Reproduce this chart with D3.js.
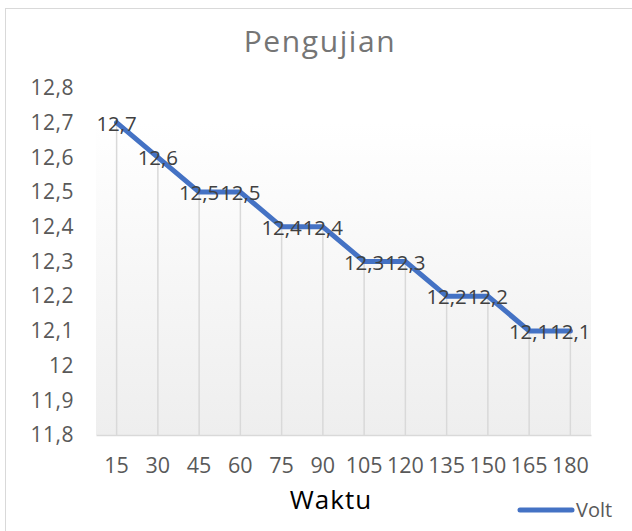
<!DOCTYPE html>
<html>
<head>
<meta charset="utf-8">
<script src="https://cdn.jsdelivr.net/npm/d3@7"></script>
<style>
  html, body { margin: 0; padding: 0; background: #fff; }
  svg { display: block; }
  text { font-family: "Open Sans", "Noto Sans", sans-serif; }
</style>
</head>
<body>
<svg id="chart" width="632" height="531"></svg>
<script>
const categories = ["15","30","45","60","75","90","105","120","135","150","165","180"];
const voltValues = [12.7, 12.6, 12.5, 12.5, 12.4, 12.4, 12.3, 12.3, 12.2, 12.2, 12.1, 12.1];
const yTicks = [11.8, 11.9, 12.0, 12.1, 12.2, 12.3, 12.4, 12.5, 12.6, 12.7, 12.8];
const seriesName = "Volt";
const chartTitle = "Pengujian";
const xTitle = "Waktu";

const fmt = v => {
  const s = (Math.round(v * 10) / 10).toString();
  return s.replace(".", ",");
};

const svg = d3.select("#chart");
const W = 632, H = 531;
const plot = { left: 96, right: 591, top: 88, bottom: 435 };

// chart border
svg.append("rect")
  .attr("x", 5.5).attr("y", 8.5)
  .attr("width", W - 5).attr("height", H)
  .attr("fill", "#fff").attr("stroke", "#d9d9d9").attr("stroke-width", 1);

// gradient background of plot area
const defs = svg.append("defs");
const grad = defs.append("linearGradient").attr("id", "bg")
  .attr("x1", 0).attr("y1", 0).attr("x2", 0).attr("y2", 1);
grad.append("stop").attr("offset", "0%").attr("stop-color", "#ffffff");
grad.append("stop").attr("offset", "100%").attr("stop-color", "#eeeeee");

const x = d3.scaleBand().domain(categories).range([plot.left, plot.right]).padding(0);
const y = d3.scaleLinear().domain([11.8, 12.8]).range([plot.bottom, plot.top]);

svg.append("rect")
  .attr("x", plot.left).attr("y", y(12.7))
  .attr("width", plot.right - plot.left).attr("height", plot.bottom - y(12.7))
  .attr("fill", "url(#bg)");

// drop lines
svg.append("g").selectAll("line")
  .data(categories)
  .join("line")
  .attr("x1", (d) => x(d) + x.bandwidth() / 2)
  .attr("x2", (d) => x(d) + x.bandwidth() / 2)
  .attr("y1", (d, i) => y(voltValues[i]))
  .attr("y2", plot.bottom)
  .attr("stroke", "#d9d9d9").attr("stroke-width", 1.5);

// x axis
const xAxis = svg.append("g")
  .attr("transform", `translate(0,${plot.bottom})`)
  .call(d3.axisBottom(x).tickSize(0).tickPadding(23));
xAxis.select(".domain").attr("stroke", "#d9d9d9").attr("stroke-width", 1.5);
xAxis.selectAll("text")
  .attr("font-size", 21.5).attr("fill", "#595959")
  .attr("font-family", "'Open Sans', sans-serif");

// y axis
const yAxis = svg.append("g")
  .attr("transform", `translate(74,0)`)
  .call(d3.axisLeft(y).tickValues(yTicks).tickSize(0).tickPadding(0).tickFormat(fmt));
yAxis.select(".domain").remove();
yAxis.selectAll("text")
  .attr("font-size", 21).attr("fill", "#595959")
  .attr("font-family", "'Open Sans', sans-serif")
  .style("letter-spacing", "0.5px");

// line
const line = d3.line()
  .x((d, i) => x(categories[i]) + x.bandwidth() / 2)
  .y((d) => y(d));
svg.append("path")
  .datum(voltValues)
  .attr("d", line)
  .attr("fill", "none")
  .attr("stroke", "#4472C4")
  .attr("stroke-width", 5)
  .attr("stroke-linejoin", "round")
  .attr("stroke-linecap", "round");

// data labels
svg.append("g").selectAll("text")
  .data(voltValues)
  .join("text")
  .attr("x", (d, i) => x(categories[i]) + x.bandwidth() / 2)
  .attr("y", (d) => y(d) + 8)
  .attr("text-anchor", "middle")
  .attr("font-size", 20.5)
  .attr("fill", "#404040")
  .text(fmt);

// title
svg.append("text")
  .attr("x", 320).attr("y", 52)
  .attr("text-anchor", "middle")
  .attr("font-size", 30)
  .attr("fill", "#757575")
  .style("letter-spacing", "1.6px")
  .text(chartTitle);

// x title
svg.append("text")
  .attr("x", 331).attr("y", 509)
  .attr("text-anchor", "middle")
  .attr("font-size", 26)
  .attr("fill", "#000")
  .style("letter-spacing", "1px")
  .text(xTitle);

// legend
svg.append("line")
  .attr("x1", 520).attr("x2", 572)
  .attr("y1", 510).attr("y2", 510)
  .attr("stroke", "#4472C4").attr("stroke-width", 5)
  .attr("stroke-linecap", "round");
svg.append("text")
  .attr("x", 576).attr("y", 517)
  .attr("font-size", 20)
  .attr("fill", "#595959")
  .text(seriesName);
</script>
</body>
</html>
